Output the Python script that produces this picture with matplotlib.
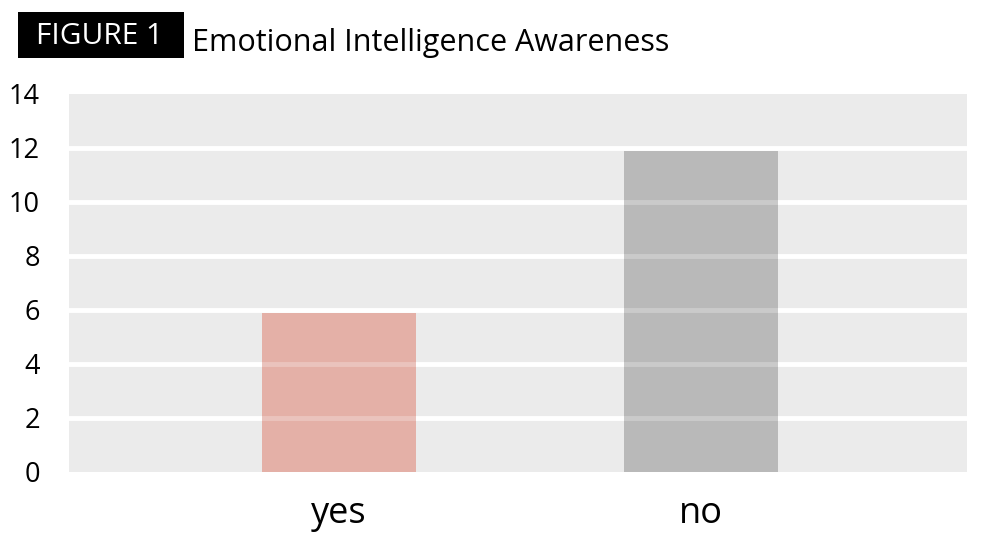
import matplotlib.pyplot as plt
from matplotlib.patches import Rectangle
import numpy as np

plt.rcParams['font.family'] = ['Open Sans', 'DejaVu Sans']

# 数据
categories = ['yes', 'no']
values = [5.9, 11.9]
colors = ['#e4b0a7', '#b9b9b9']
yticks = np.arange(0, 16, 2)

fig = plt.figure(figsize=(9.83, 5.39), dpi=100)
ax = fig.add_axes([69 / 983, 1 - 472 / 539, 898 / 983, 378 / 539])
ax.set_facecolor('#ebebeb')

x = np.arange(len(categories))
ax.bar(x, values, width=0.425, color=colors, zorder=1)

# 白色网格线（半透明压在柱子上）
for t in yticks[1:-1]:
    ax.axhline(t, color='white', linewidth=3.5, alpha=0.25, zorder=3)
    ax.axhline(t, color='white', linewidth=3.5, zorder=0.5)

ax.set_xlim(-0.745, 1.735)
ax.set_ylim(0, 14)
ax.set_yticks(yticks)
ax.set_yticklabels([str(t) for t in yticks], fontsize=19.5)
ax.set_xticks(x)
ax.set_xticklabels(categories, fontsize=26)
ax.tick_params(axis='both', length=0)
ax.tick_params(axis='y', pad=21)
ax.tick_params(axis='x', pad=17)
for s in ax.spines.values():
    s.set_visible(False)

# 标题
fig.patches.append(Rectangle((18 / 983, 1 - 58 / 539), 166 / 983, 46 / 539,
                             transform=fig.transFigure, facecolor='black', edgecolor='none'))
fig.text(100 / 983, 1 - 37 / 539, 'FIGURE 1', color='white', fontsize=21.5,
         ha='center', va='center')
fig.text(192 / 983, 1 - 43 / 539, 'Emotional Intelligence Awareness', color='black',
         fontsize=22, ha='left', va='center')

plt.savefig('out.png', dpi=100)
